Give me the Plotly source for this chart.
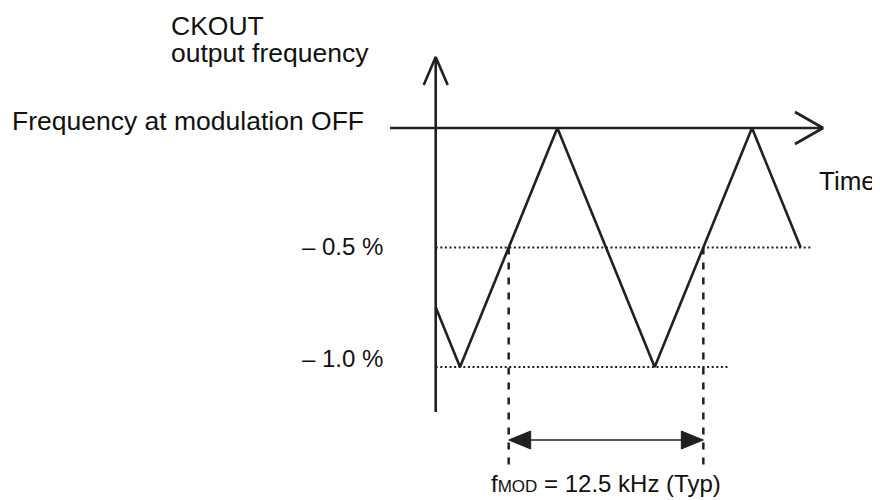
import plotly.graph_objects as go

# ---------------- data ----------------
time_us = [0, 10, 50, 90, 130, 150]              # time (µs) of the triangle-wave vertices
freq_pct = [-0.75, -1.0, 0.0, -1.0, 0.0, -0.5]   # CKOUT frequency deviation (%)
level_pct = [-0.5, -1.0]                          # dotted reference levels
level_labels = ["\u2013 0.5 %", "\u2013 1.0 %"]
level_end_us = [155, 120]                         # where the dotted guides stop
mod_marks_us = [30, 110]                          # rising edge crosses -0.5 % (one period = 80 µs)
fmod_text = "f<span style='font-size:17px'>MOD</span> = 12.5 kHz (Typ)"
y_title = ["CKOUT", "output frequency"]
x_title = "Time"
ref_label = "Frequency at modulation OFF"

# ---------------- layout geometry ----------------
PAGE_W, PAGE_H = 880, 500
BODY = 8                      # default body margin of the html page
W, H = PAGE_W - BODY, PAGE_H - BODY
KX = 2.433                    # px per µs
KY = 239.0                    # px per %
X0_PX = 435.7 - BODY          # figure pixel of t = 0
Y0_PX = 128.0 - BODY          # figure pixel of 0 %

x_range = [-X0_PX / KX, (W - X0_PX) / KX]
y_range = [(Y0_PX - H) / KY, Y0_PX / KY]

def v_at(page_py):
    return (Y0_PX - (page_py - BODY)) / KY

def t_at(page_px):
    return ((page_px - BODY) - X0_PX) / KX

INK = "#231f20"
FONT = "Liberation Sans, Arial, Helvetica, sans-serif"

fig = go.Figure()

def seg(xs, ys, width=2.6, dash=None, color=INK):
    fig.add_trace(go.Scatter(x=xs, y=ys, mode="lines",
                             line=dict(color=color, width=width, dash=dash),
                             hoverinfo="skip", showlegend=False, cliponaxis=False))

# dotted reference levels
for lv, te in zip(level_pct, level_end_us):
    seg([0, te], [lv, lv], width=2, dash="2px,2.6px")

# dashed verticals marking one modulation period
v_dash_bottom = v_at(465)
for tm in mod_marks_us:
    seg([tm, tm], [level_pct[0], v_dash_bottom], width=2.5, dash="7px,8px")

# axes
v_axis_top = v_at(57)
v_axis_bottom = v_at(412)
h_axis_left = t_at(390)
h_axis_tip = t_at(823)
seg([0, 0], [v_axis_bottom, v_axis_top])
seg([h_axis_left, h_axis_tip], [0, 0])
# open arrowheads
seg([-12 / KX, 0, 12 / KX], [v_axis_top - 28 / KY, v_axis_top, v_axis_top - 28 / KY])
seg([h_axis_tip - 28 / KX, h_axis_tip, h_axis_tip - 28 / KX], [16 / KY, 0, -16 / KY])

# triangle wave
fig.add_trace(go.Scatter(x=time_us, y=freq_pct, mode="lines",
                         line=dict(color=INK, width=2.6),
                         hoverinfo="skip", showlegend=False))

# double-headed period arrow
v_arr = v_at(440)
hl = 22 / KX
hh = 9 / KY
t_a, t_b = mod_marks_us
seg([t_a + hl * 0.8, t_b - hl * 0.8], [v_arr, v_arr], width=1.5)
for tip, d in ((t_a, 1), (t_b, -1)):
    fig.add_trace(go.Scatter(x=[tip, tip + d * hl, tip + d * hl, tip],
                             y=[v_arr, v_arr + hh, v_arr - hh, v_arr],
                             mode="lines", fill="toself", fillcolor=INK,
                             line=dict(color=INK, width=1),
                             hoverinfo="skip", showlegend=False))

# ---------------- text ----------------
def label(text, page_px, page_py, xanchor="left", size=26.5):
    fig.add_annotation(text=text, x=(page_px - BODY) / W, y=1 - (page_py - BODY) / H,
                       xref="paper", yref="paper", borderpad=0,
                       xanchor=xanchor, yanchor="middle", showarrow=False,
                       font=dict(family=FONT, size=size, color="#111111"))

label(y_title[0], 170, 26)
label(y_title[1], 170, 53)
label(ref_label, 11, 121)
label(x_title, 818, 181, size=26)
label(level_labels[0], 384, 246, xanchor="right", size=24)
label(level_labels[1], 384, 358, xanchor="right", size=24)
label(fmod_text, 435.7 + KX * (t_a + t_b) / 2, 483, xanchor="center", size=24)

fig.update_layout(
    width=W, height=H,
    margin=dict(l=0, r=0, t=0, b=0),
    paper_bgcolor="white", plot_bgcolor="white",
    xaxis=dict(range=x_range, visible=False, fixedrange=True),
    yaxis=dict(range=y_range, visible=False, fixedrange=True),
    showlegend=False,
)

fig.write_html("out.html")
